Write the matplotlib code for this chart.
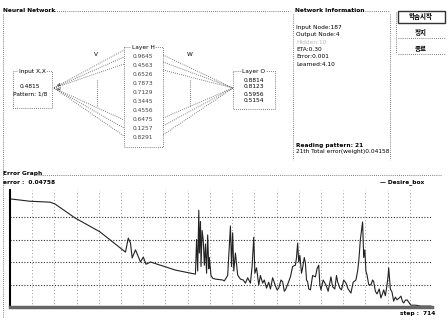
import matplotlib
matplotlib.use('Agg')
import matplotlib.pyplot as plt
from matplotlib.patches import Rectangle

plt.rcParams['font.family'] = ['DejaVu Sans', 'Noto Sans CJK KR']

# network values
input_values = ['0.4815']
hidden_values = ['0.9645', '0.4563', '0.6526', '0.7873', '0.7129',
                 '0.3445', '0.4556', '0.6475', '0.1257', '0.8291']
output_values = ['0.8814', '0.8123', '0.5956', '0.5154']
info_lines = ['Input Node:187', 'Output Node:4', 'Hidden:10', 'ETA:0.30',
              'Error:0.001', 'Learned:4.10']
buttons = ['학습시작', '정지', '종료']

# error graph (step, error)
steps = [2, 36, 72, 81, 117, 162, 208, 213, 217, 220, 226, 235, 240, 245, 253,
         298, 334, 336, 338, 340, 341, 343, 344, 346, 348, 350, 352, 354, 356,
         358, 359, 362, 365, 370, 383, 386, 392, 397, 399, 401, 403, 406, 410,
         415, 420, 424, 428, 433, 436, 439, 441, 444, 448, 451, 455, 458, 462,
         466, 469, 473, 478, 481, 484, 488, 491, 494, 496, 500, 505, 509, 514,
         516, 518, 520, 522, 525, 527, 530, 532, 534, 536, 538, 541, 545, 550,
         553, 556, 558, 560, 564, 569, 573, 578, 581, 585, 588, 590, 594, 597,
         601, 605, 609, 614, 618, 623, 626, 628, 631, 635, 637, 639, 641, 643,
         646, 650, 653, 655, 658, 661, 665, 668, 671, 673, 676, 679, 681, 682,
         685, 688, 691, 694, 697, 701, 704, 707, 709, 712, 715, 722, 731, 740, 758]
errors = [0.240, 0.235, 0.233, 0.229, 0.198, 0.167, 0.122, 0.153, 0.142, 0.109,
          0.127, 0.100, 0.111, 0.095, 0.100, 0.082, 0.073, 0.150, 0.080, 0.215,
          0.120, 0.190, 0.090, 0.170, 0.149, 0.093, 0.140, 0.075, 0.160, 0.085,
          0.110, 0.070, 0.064, 0.062, 0.060, 0.058, 0.070, 0.180, 0.090, 0.165,
          0.080, 0.120, 0.071, 0.062, 0.060, 0.053, 0.065, 0.053, 0.090, 0.155,
          0.075, 0.087, 0.049, 0.070, 0.053, 0.060, 0.042, 0.055, 0.040, 0.065,
          0.047, 0.038, 0.042, 0.060, 0.056, 0.035, 0.038, 0.050, 0.067, 0.090,
          0.093, 0.110, 0.142, 0.100, 0.115, 0.075, 0.087, 0.110, 0.098, 0.060,
          0.056, 0.040, 0.038, 0.070, 0.067, 0.085, 0.093, 0.050, 0.038, 0.060,
          0.049, 0.035, 0.067, 0.045, 0.040, 0.070, 0.056, 0.042, 0.038, 0.060,
          0.053, 0.040, 0.031, 0.055, 0.060, 0.080, 0.100, 0.150, 0.189, 0.110,
          0.127, 0.080, 0.071, 0.050, 0.049, 0.060, 0.056, 0.035, 0.029, 0.040,
          0.020, 0.030, 0.038, 0.025, 0.049, 0.070, 0.087, 0.040, 0.033, 0.013,
          0.022, 0.016, 0.020, 0.024, 0.012, 0.009, 0.015, 0.016, 0.004, 0.004,
          0.002, 0.002]

fig = plt.figure(figsize=(4.48, 3.2), dpi=100)
bg = fig.add_axes([0, 0, 1, 1])
bg.set_xlim(0, 448)
bg.set_ylim(320, 0)
bg.axis('off')

dot = dict(color='#555555', lw=0.6, ls=(0, (1, 1.5)))
fs = 4.2

# --- Neural Network panel ---
bg.text(3, 10, 'Neural Network', fontsize=fs, fontweight='bold', va='center')
bg.plot([46, 290], [11, 11], **dot)
bg.plot([3, 3], [14, 318], **dot)

# input box
bg.add_patch(Rectangle((13, 71), 39, 37, fill=False, **dot))
bg.text(32, 72, 'Input X,X', fontsize=fs, ha='center', va='center',
        bbox=dict(fc='white', ec='none', pad=0.3))
bg.text(30, 86, input_values[0], fontsize=fs, ha='center', va='center')
bg.text(30, 94, 'Pattern: 1/8', fontsize=fs, ha='center', va='center')
bg.text(57, 87, 'x1\nx2', fontsize=3, ha='left', va='center', linespacing=0.9)

# hidden box
bg.add_patch(Rectangle((124, 47), 39, 100, fill=False, **dot))
bg.text(143, 48, 'Layer H', fontsize=fs, ha='center', va='center',
        bbox=dict(fc='white', ec='none', pad=0.3))
for i, v in enumerate(hidden_values):
    bg.text(143, 57 + i * 8.9, v, fontsize=fs, ha='center', va='center', color='#444444')

# output box
bg.add_patch(Rectangle((233, 71), 42, 38, fill=False, **dot))
bg.text(254, 72, 'Layer O', fontsize=fs, ha='center', va='center',
        bbox=dict(fc='white', ec='none', pad=0.3))
for i, v in enumerate(output_values):
    bg.text(254, 80 + i * 7, v, fontsize=fs, ha='center', va='center')

# connections
for yh in [50, 57, 64, 120, 128, 136]:
    bg.plot([54, 124], [88, yh], **dot)
for yh in [55, 62, 70, 118, 126, 135]:
    bg.plot([163, 233], [yh, 88], **dot)
bg.plot([97, 97], [80, 106], **dot)
bg.plot([190, 190], [80, 106], **dot)
bg.text(96, 55, 'V', fontsize=fs, ha='center', va='center')
bg.text(190, 55, 'W', fontsize=fs, ha='center', va='center')

# --- Network information panel ---
bg.text(295, 11, 'Network Information', fontsize=fs, fontweight='bold', va='center')
bg.plot([340, 390], [11, 11], **dot)
bg.plot([293, 293], [14, 160], **dot)
bg.plot([390, 390], [14, 160], **dot)
for i, t in enumerate(info_lines):
    bg.text(296, 27 + i * 7.5, t, fontsize=fs, va='center',
            color='#bbbbbb' if i == 2 else 'black')
bg.text(296, 145, 'Reading pattern: 21', fontsize=fs, fontweight='bold', va='center')
bg.text(296, 152, '21th Total error(weight)0.04158', fontsize=fs, va='center')

# buttons
cjk = ['Noto Sans CJK KR', 'DejaVu Sans']
bg.add_patch(Rectangle((398, 11), 47, 12, fill=False, ec='#333333', lw=1.0))
bg.text(421, 17, buttons[0], fontsize=fs + 0.5, ha='center', va='center',
        fontweight='bold', family=cjk)
bg.text(421, 32, buttons[1], fontsize=fs + 0.5, ha='center', va='center',
        fontweight='bold', family=cjk)
bg.plot([398, 445], [38, 38], **dot)
bg.text(421, 48, buttons[2], fontsize=fs + 0.5, ha='center', va='center',
        fontweight='bold', family=cjk)
bg.plot([398, 445], [54, 54], **dot)
bg.plot([396, 396], [12, 54], **dot)

# --- Error graph panel ---
bg.text(3, 173, 'Error Graph', fontsize=fs, fontweight='bold', va='center')
bg.plot([36, 442], [175, 175], **dot)
bg.text(3, 183, 'error :  0.04758', fontsize=fs, fontweight='bold', va='center')
bg.text(380, 182, '— Desire_box', fontsize=fs, fontweight='bold', va='center')
bg.text(400, 313, 'step :  714', fontsize=fs, fontweight='bold', va='center')

ax = fig.add_axes([10 / 448, 1 - 307 / 320, 422 / 448, 117 / 320])
ax.plot(steps, errors, color='#222222', lw=0.8)
ax.set_xlim(0, 760)
ax.set_ylim(0, 0.26)
ax.set_xticks(range(40, 760, 40))
ax.set_yticks([0.05, 0.10, 0.15, 0.20])
ax.grid(axis='y', color='#333333', lw=0.8, ls=(0, (1, 1.5)))
ax.grid(axis='x', color='#777777', lw=0.6, ls=(0, (1, 3)))
ax.tick_params(left=False, bottom=False, labelleft=False, labelbottom=False)
for s in ['top', 'right']:
    ax.spines[s].set_visible(False)
ax.spines['left'].set_color('black')
ax.spines['left'].set_linewidth(1.5)
ax.spines['bottom'].set_color('#666666')
ax.spines['bottom'].set_linewidth(2.5)
ax.patch.set_alpha(0)

fig.savefig('out.png', dpi=100)
